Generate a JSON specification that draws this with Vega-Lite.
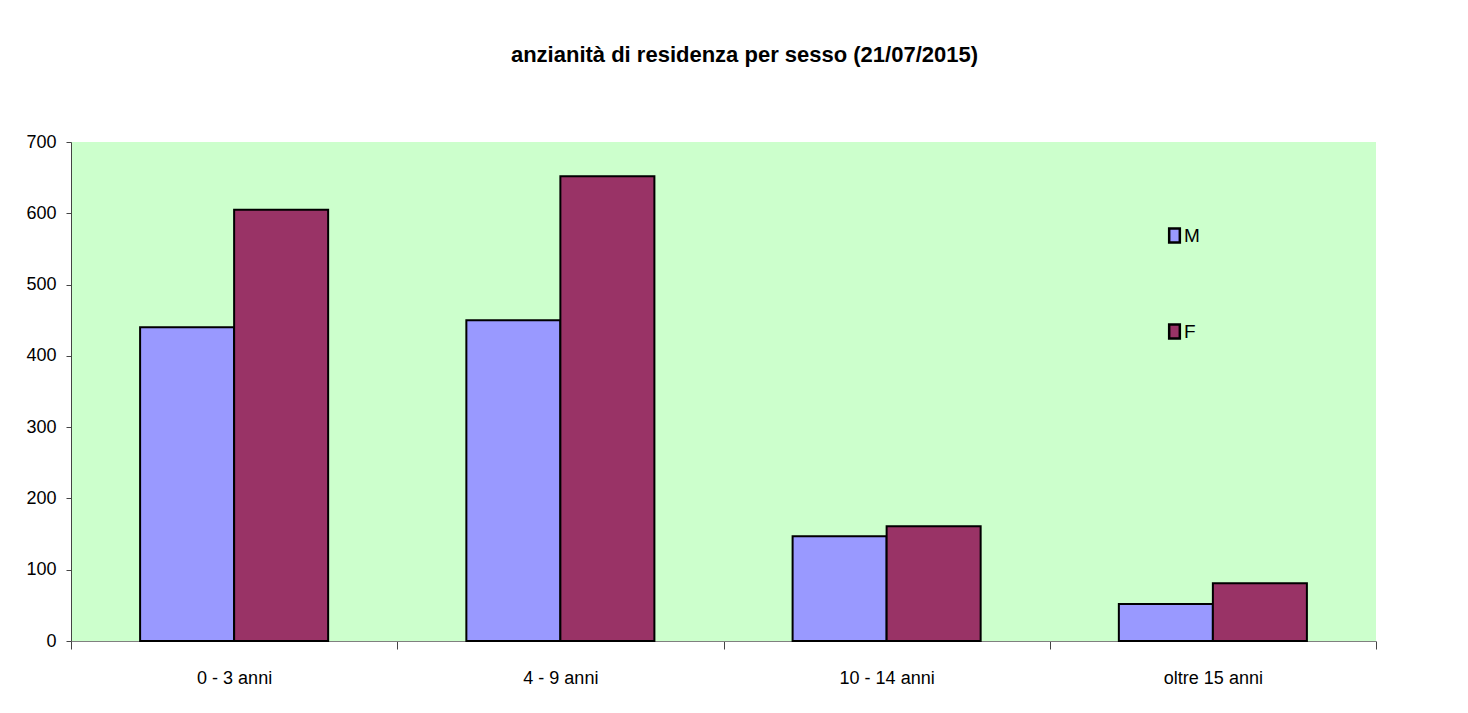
{
  "$schema": "https://vega.github.io/schema/vega-lite/v6.json",
  "autosize": "none",
  "width": 1305,
  "height": 499,
  "padding": {"left": 71, "top": 142, "right": 92, "bottom": 72},
  "background": "white",
  "title": {
    "text": "anzianità di residenza per sesso (21/07/2015)",
    "font": "Liberation Sans",
    "fontSize": 22,
    "fontWeight": "bold",
    "color": "black",
    "anchor": "middle",
    "frame": "group",
    "dx": 21,
    "offset": 66
  },
  "data": {
    "values": [
      {"classe": "0 - 3 anni", "sesso": "M", "n": 440},
      {"classe": "0 - 3 anni", "sesso": "F", "n": 605},
      {"classe": "4 - 9 anni", "sesso": "M", "n": 450},
      {"classe": "4 - 9 anni", "sesso": "F", "n": 652},
      {"classe": "10 - 14 anni", "sesso": "M", "n": 147},
      {"classe": "10 - 14 anni", "sesso": "F", "n": 161},
      {"classe": "oltre 15 anni", "sesso": "M", "n": 52},
      {"classe": "oltre 15 anni", "sesso": "F", "n": 81}
    ]
  },
  "mark": {"type": "bar", "stroke": "black", "strokeWidth": 2},
  "encoding": {
    "x": {
      "field": "classe",
      "type": "nominal",
      "sort": ["0 - 3 anni", "4 - 9 anni", "10 - 14 anni", "oltre 15 anni"],
      "scale": {"paddingInner": 0, "paddingOuter": 0},
      "axis": {
        "title": null,
        "labelAngle": 0,
        "tickBand": "extent",
        "labelFont": "Liberation Sans",
        "labelFontSize": 18,
        "labelColor": "black",
        "labelPadding": 20,
        "tickSize": 8,
        "tickColor": "#444",
        "domainColor": "#808080"
      }
    },
    "xOffset": {
      "field": "sesso",
      "type": "nominal",
      "sort": ["M", "F"],
      "scale": {"paddingInner": 0, "paddingOuter": 0.735}
    },
    "y": {
      "field": "n",
      "type": "quantitative",
      "scale": {"domain": [0, 700], "nice": false},
      "axis": {
        "title": null,
        "values": [0, 100, 200, 300, 400, 500, 600, 700],
        "grid": false,
        "labelFont": "Liberation Sans",
        "labelFontSize": 18,
        "labelColor": "black",
        "labelPadding": 10,
        "tickSize": 5,
        "tickColor": "#444",
        "domainColor": "#444"
      }
    },
    "fill": {
      "field": "sesso",
      "type": "nominal",
      "sort": ["M", "F"],
      "scale": {"domain": ["M", "F"], "range": ["#9999FF", "#993366"]},
      "legend": {
        "title": null,
        "orient": "none",
        "legendX": 1094,
        "legendY": 84,
        "symbolType": "M-0.9,-1.2H0.9V1.2H-0.9Z",
        "symbolSize": 140,
        "symbolStrokeColor": "black",
        "symbolStrokeWidth": 2.5,
        "rowPadding": 71,
        "labelFont": "Liberation Sans",
        "labelFontSize": 19,
        "labelColor": "black",
        "labelOffset": 0
      }
    }
  },
  "config": {
    "view": {"fill": "#CCFFCC", "stroke": null}
  }
}
